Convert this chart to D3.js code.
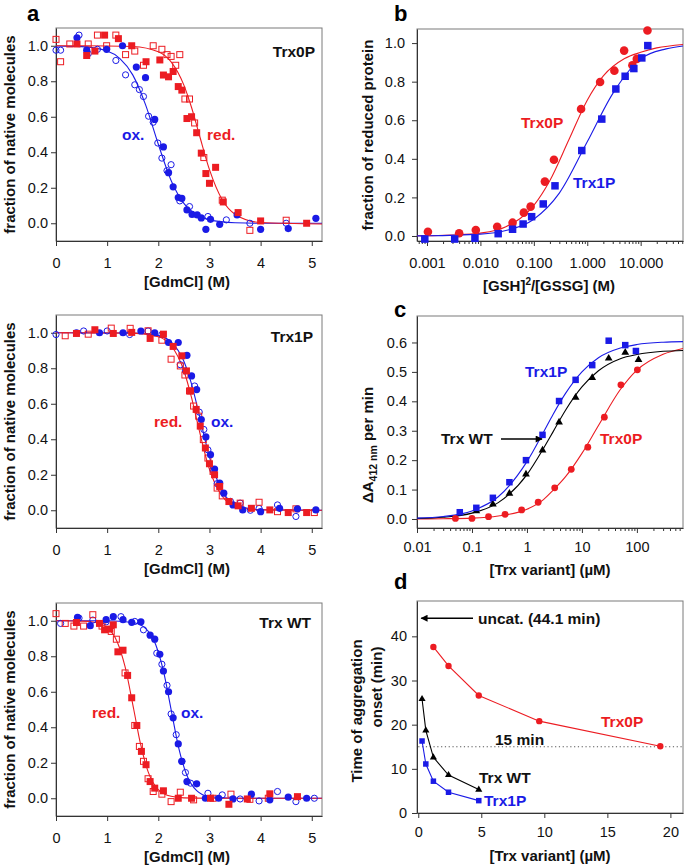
<!DOCTYPE html>
<html>
<head>
<meta charset="utf-8">
<script src="https://cdn.jsdelivr.net/npm/d3@7"></script>
<style>
  body { margin: 0; background: #fff; }
  svg text { font-family: "Liberation Sans", Arial, sans-serif; }
</style>
</head>
<body>
<svg id="fig" width="685" height="867"></svg>
<script>
// ---------- panel a : fraction of native molecules vs [GdmCl] ----------
// Trx0P
var a0OxOpen = [[0,0.975],[0.09,0.975],[0.45,1.06],[0.63,0.955],[0.81,0.98],[1.17,0.917],[1.36,0.836],[1.54,0.78],[1.63,0.753],[1.71,0.714],[1.81,0.603],[1.9,0.569],[1.99,0.452],[2.07,0.367],[2.17,0.296],[2.25,0.33],[2.42,0.126],[2.61,0.094],[2.97,0.038],[3.33,0.019],[3.79,0.0],[4.5,0.0]];
var a0OxFilled = [[0.41,1.045],[0.6,0.975],[0.99,0.98],[1.3,1.0],[1.57,0.88],[1.75,0.82],[1.93,0.585],[2.1,0.43],[2.2,0.285],[2.29,0.205],[2.39,0.145],[2.46,0.14],[2.56,0.075],[2.66,0.05],[2.76,0.047],[2.84,0.03],[2.93,-0.034],[3.02,0.022],[3.2,-0.006],[3.54,0.047],[4.0,-0.034],[4.54,-0.03],[5.08,0.028]];
var a0RedOpen = [[0,1.036],[0.09,0.91],[0.27,1.01],[0.63,1.01],[0.81,1.06],[0.99,1.0],[1.17,1.06],[1.36,0.95],[1.54,0.97],[1.71,0.89],[1.9,1.0],[2.07,0.98],[2.17,0.95],[2.25,0.94],[2.34,0.89],[2.42,0.95],[2.52,0.7],[2.61,0.7],[2.71,0.565],[2.89,0.37],[3.25,0.13],[3.79,-0.04],[4.5,0.017]];
var a0RedFilled = [[0.41,1.01],[0.6,0.945],[0.76,0.97],[0.95,1.06],[1.22,1.04],[1.48,1.0],[1.76,0.91],[2.03,0.92],[2.1,0.835],[2.2,0.825],[2.29,0.855],[2.39,0.77],[2.46,0.75],[2.56,0.59],[2.65,0.6],[2.75,0.51],[2.84,0.395],[2.93,0.28],[3.0,0.225],[3.12,0.315],[3.27,0.12],[3.56,0.06],[4.0,0.013],[4.9,0.0]];
var a0OxFit = [[0,0.999],[0.5,0.995],[1,0.97],[1.25,0.928],[1.5,0.836],[1.75,0.668],[2,0.445],[2.25,0.241],[2.5,0.112],[2.75,0.048],[3,0.019],[3.5,0.003],[4,0.0],[5.2,0.0]];
var a0RedFit = [[0,1.0],[1,0.999],[1.5,0.996],[2,0.966],[2.25,0.909],[2.5,0.778],[2.65,0.652],[2.8,0.5],[3,0.302],[3.25,0.132],[3.5,0.051],[4,0.004],[5.2,-0.004]];

// Trx1P
var a1OxOpen = [[0,0.99],[0.54,1.01],[1.0,1.01],[1.44,0.99],[1.8,1.01],[2.07,0.99],[2.43,0.82],[2.53,0.785],[2.71,0.7],[2.8,0.553],[2.89,0.455],[2.97,0.34],[3.07,0.23],[3.15,0.15],[3.41,0.05],[3.6,0.04],[3.8,0.0],[3.97,0.01],[4.33,0.03],[4.69,-0.035]];
var a1OxFilled = [[0.4,1.0],[0.85,1.0],[1.31,1.0],[1.66,1.01],[1.93,1.0],[2.2,0.945],[2.39,0.945],[2.56,0.873],[2.65,0.757],[2.75,0.68],[2.84,0.511],[2.93,0.413],[3.02,0.313],[3.1,0.232],[3.2,0.153],[3.28,0.096],[3.46,0.03],[3.65,0.002],[4.0,-0.008],[4.37,0.011],[4.72,0.008],[5.08,0.002]];
var a1RedOpen = [[0.18,0.983],[0.63,0.992],[1.08,1.026],[1.45,1.025],[1.8,1.011],[2.07,0.958],[2.25,0.851],[2.43,0.813],[2.52,0.762],[2.61,0.672],[2.69,0.587],[2.79,0.53],[2.88,0.398],[2.97,0.294],[3.07,0.219],[3.15,0.125],[3.25,0.081],[3.6,0.04],[3.97,0.045],[4.33,-0.008],[4.69,0.008],[5.05,-0.013]];
var a1RedFilled = [[0.4,0.996],[0.76,1.017],[1.12,0.996],[1.48,1.002],[1.84,0.968],[2.1,0.992],[2.29,0.923],[2.46,0.87],[2.55,0.785],[2.63,0.672],[2.74,0.568],[2.82,0.474],[2.92,0.351],[3.0,0.262],[3.1,0.2],[3.2,0.134],[3.38,0.049],[3.56,0.025],[3.82,0.011],[4.18,0.002],[4.54,-0.013],[4.9,-0.013]];
var a1OxFit = [[0,1],[1.5,0.999],[2,0.984],[2.25,0.948],[2.5,0.839],[2.65,0.711],[2.83,0.5],[2.9,0.413],[3,0.3],[3.25,0.109],[3.5,0.034],[4,0.003],[5.2,0]];
var a1RedFit = [[0,1],[1.5,0.998],[2,0.978],[2.25,0.928],[2.5,0.786],[2.65,0.634],[2.76,0.5],[2.9,0.332],[3,0.231],[3.25,0.079],[3.5,0.024],[4,0.002],[5.2,0]];

// Trx WT
var a2OxOpen = [[0.09,0.985],[0.45,1.015],[0.72,1.004],[0.98,0.994],[1.27,1.023],[1.54,0.996],[1.71,0.949],[1.97,0.817],[2.07,0.755],[2.17,0.636],[2.25,0.475],[2.35,0.358],[2.46,0.208],[2.53,0.145],[2.63,0.085],[2.97,0.028],[3.25,0.019],[3.6,-0.004],[3.97,-0.015],[4.33,0.038],[4.69,-0.019],[5.05,0.0]];
var a2OxFilled = [[0.42,1.019],[0.67,0.972],[0.98,1.006],[1.12,1.023],[1.31,1.006],[1.48,0.991],[1.66,0.994],[1.84,0.919],[1.93,0.896],[2.03,0.811],[2.1,0.717],[2.2,0.6],[2.29,0.453],[2.39,0.306],[2.46,0.208],[2.56,0.094],[2.75,0.081],[2.92,0.0],[3.18,0.0],[3.46,-0.004],[3.82,0.023],[4.18,-0.009],[4.54,0.006],[4.9,0.0]];
var a2RedOpen = [[0,1.04],[0.18,0.985],[0.35,0.97],[0.54,0.97],[0.72,1.034],[0.9,0.97],[1.08,0.94],[1.18,0.896],[1.35,0.706],[1.54,0.41],[1.63,0.292],[1.71,0.208],[1.8,0.11],[1.9,0.038],[2.07,0.023],[2.25,-0.019],[2.43,0.034],[2.69,-0.009],[3.07,0.0],[3.42,0.023],[3.79,-0.006],[4.15,0.0]];
var a2RedFilled = [[0.4,0.99],[0.85,0.985],[0.95,0.949],[1.05,0.953],[1.12,0.977],[1.21,0.825],[1.31,0.834],[1.4,0.692],[1.48,0.566],[1.58,0.41],[1.67,0.264],[1.76,0.189],[1.84,0.094],[1.93,0.057],[2.1,0.042],[2.39,0.0],[2.65,0.0],[3.02,0.0],[3.38,-0.034],[3.74,-0.004],[4.18,0.025],[4.72,0.009]];
var a2OxFit = [[0,1],[1,1],[1.5,0.99],[1.75,0.957],[1.95,0.865],[2.1,0.717],[2.25,0.5],[2.4,0.283],[2.55,0.135],[2.75,0.043],[3,0.009],[3.5,0],[5.2,0]];
var a2RedFit = [[0,1],[0.5,0.998],[0.75,0.992],[1,0.962],[1.2,0.879],[1.35,0.741],[1.52,0.5],[1.65,0.309],[1.8,0.15],[2,0.049],[2.25,0.011],[2.5,0.002],[3,0],[5.2,0]];

var aTicksX = [0, 1, 2, 3, 4, 5];
var aTicksY = [0, 0.2, 0.4, 0.6, 0.8, 1.0];

// ---------- panel b : fraction of reduced protein ----------
var bTrx0P = [[0.00104,0.022],[0.004,0.014],[0.0082,0.031],[0.0206,0.048],[0.04,0.069],[0.065,0.121],[0.087,0.152],[0.161,0.282],[0.238,0.395],[0.766,0.658],[1.74,0.798],[3.22,0.857],[4.9,0.961],[7.0,0.885],[8.47,0.918],[13.4,1.065]];
var bTrx1P = [[0.00091,-0.016],[0.0033,-0.016],[0.0079,-0.012],[0.0215,0.012],[0.04,0.035],[0.063,0.062],[0.091,0.1],[0.15,0.166],[0.249,0.26],[0.79,0.443],[1.87,0.606],[3.43,0.762],[5.12,0.828],[7.45,0.868],[10.5,0.923],[13.6,0.987]];
var bTrx0PFit = [[0.00065,0.001],[0.001,0.001],[0.003,0.005],[0.01,0.015],[0.03,0.048],[0.1,0.159],[0.2,0.288],[0.455,0.5],[1,0.704],[2,0.83],[5,0.92],[10,0.952],[20,0.975],[62,0.993]];
var bTrx1PFit = [[0.00065,0.0006],[0.001,0.001],[0.01,0.0095],[0.03,0.028],[0.1,0.087],[0.3,0.222],[1,0.488],[3,0.738],[10,0.918],[30,0.97],[62,0.985]];
var bTicksX = [0.001, 0.01, 0.1, 1, 10];
var bTickLabels = ['0.001', '0.010', '0.100', '1.000', '10.000'];
var bTicksY = [0, 0.2, 0.4, 0.6, 0.8, 1.0];

// ---------- panel c : DTNB reduction rate ----------
var cTrx1P = [[0.06,0.023],[0.12,0.038],[0.24,0.072],[0.48,0.125],[0.96,0.2],[1.92,0.286],[3.84,0.401],[7.68,0.473],[15.4,0.523],[30.7,0.606],[61.4,0.591],[96,0.571]];
var cTrxWT = [[0.12,0.027],[0.24,0.05],[0.48,0.087],[0.96,0.152],[1.92,0.234],[3.84,0.329],[7.68,0.413],[15.4,0.48],[30.7,0.546],[61.4,0.566],[107,0.541]];
var cTrx0P = [[0.05,0.002],[0.1,0.002],[0.2,0.008],[0.4,0.016],[0.8,0.031],[1.6,0.057],[3.2,0.106],[6.4,0.169],[12.8,0.244],[25.6,0.346],[51.2,0.456],[102,0.507]];
var cTrx1PFit = [[0.01,0.003],[0.03,0.0085],[0.1,0.0275],[0.3,0.0756],[1,0.195],[2,0.295],[3,0.356],[5,0.426],[10,0.5],[20,0.548],[50,0.581],[100,0.593],[300,0.601],[700,0.603]];
var cTrxWTFit = [[0.01,0.002],[0.03,0.006],[0.1,0.02],[0.3,0.0556],[1,0.151],[2,0.24],[3,0.297],[5,0.369],[10,0.449],[20,0.504],[50,0.545],[100,0.559],[300,0.57],[700,0.573]];
var cTrx0PFit = [[0.01,0.0003],[0.03,0.001],[0.1,0.003],[0.3,0.01],[1,0.033],[2,0.066],[3,0.098],[5,0.143],[10,0.223],[20,0.318],[50,0.44],[100,0.506],[300,0.56],[700,0.58]];
var cTicksX = [0.01, 0.1, 1, 10, 100];
var cTickLabels = ['0.01', '0.1', '1', '10', '100'];
var cTicksY = [0, 0.1, 0.2, 0.3, 0.4, 0.5, 0.6];

// ---------- panel d : aggregation onset ----------
var dTrx0P = [[1.2,37.6],[2.4,33.3],[4.8,26.6],[9.6,20.8],[19.2,15.1]];
var dTrxWT = [[0.3,25.8],[0.6,18.7],[1.2,12.6],[2.4,8.6],[4.8,5.3]];
var dTrx1P = [[0.3,16.3],[0.6,11.1],[1.2,7.2],[2.4,4.7],[4.8,2.8]];
var dThreshold = 15;
var dUncat = 44.1;
var dTicksX = [0, 5, 10, 15, 20];
var dTicksY = [0, 10, 20, 30, 40];

// ---------- drawing ----------
var blue = '#1a1ae6', red = '#ec1c22', dark = '#111';
var tickFont = 14.5, titleFont = 15, labelFont = 15.5;
var svg = d3.select('#fig');
var defs = svg.append('defs');
var clipId = 0;

// frame + axes for one panel, returns a clipped group for the curves
function panel(box, xs, ys, opt) {
  var g = svg.append('g');
  var id = 'clip' + (clipId++);
  defs.append('clipPath').attr('id', id).append('rect')
    .attr('x', box.l).attr('y', box.t).attr('width', box.r - box.l).attr('height', box.b - box.t);

  g.append('rect')
    .attr('x', box.l).attr('y', box.t)
    .attr('width', box.r - box.l).attr('height', box.b - box.t)
    .attr('fill', 'none').attr('stroke', '#7a7a7a').attr('stroke-width', 1);

  var xAxis = d3.axisBottom(xs).tickValues(opt.xTicks).tickSize(5).tickSizeOuter(0)
    .tickPadding(opt.xPad).tickFormat(function(d, i){ return opt.xLabels ? opt.xLabels[i] : d; });
  var gx = g.append('g').attr('transform', 'translate(0,' + box.b + ')').call(xAxis);
  if (opt.minor) {
    g.append('g').attr('transform', 'translate(0,' + box.b + ')')
      .call(d3.axisBottom(xs).tickValues(opt.minor).tickSize(3).tickSizeOuter(0).tickFormat(''))
      .select('.domain').remove();
  }
  var yAxis = d3.axisLeft(ys).tickValues(opt.yTicks).tickSize(5).tickSizeOuter(0)
    .tickPadding(opt.yPad).tickFormat(opt.yFormat);
  var gy = g.append('g').attr('transform', 'translate(' + box.l + ',0)').call(yAxis);

  [gx, gy].forEach(function(a) {
    a.selectAll('text').attr('font-size', tickFont).attr('fill', '#111');
    a.select('.domain').attr('stroke', '#333');
  });
  g.selectAll('.tick line').attr('stroke', '#333');

  var inner = svg.append('g').attr('clip-path', 'url(#' + id + ')');
  return { g: g, inner: inner };
}

function fit(layer, data, xs, ys, color) {
  layer.append('path').datum(data)
    .attr('fill', 'none').attr('stroke', color).attr('stroke-width', 1.1)
    .attr('d', d3.line().x(function(d){ return xs(d[0]); }).y(function(d){ return ys(d[1]); })
      .curve(d3.curveMonotoneX));
}

function polyline(layer, data, xs, ys, color) {
  layer.append('path').datum(data)
    .attr('fill', 'none').attr('stroke', color).attr('stroke-width', 1.1)
    .attr('d', d3.line().x(function(d){ return xs(d[0]); }).y(function(d){ return ys(d[1]); }));
}

function circles(data, xs, ys, color, r, open) {
  svg.append('g').selectAll('circle').data(data).enter().append('circle')
    .attr('cx', function(d){ return xs(d[0]); })
    .attr('cy', function(d){ return ys(d[1]); })
    .attr('r', open ? r - 0.5 : r)
    .attr('fill', open ? 'none' : color)
    .attr('stroke', color).attr('stroke-width', open ? 1 : 0);
}

function squares(data, xs, ys, color, s, open) {
  var h = open ? s - 1 : s;
  svg.append('g').selectAll('rect').data(data).enter().append('rect')
    .attr('x', function(d){ return xs(d[0]) - h / 2; })
    .attr('y', function(d){ return ys(d[1]) - h / 2; })
    .attr('width', h).attr('height', h)
    .attr('fill', open ? 'none' : color)
    .attr('stroke', color).attr('stroke-width', open ? 1 : 0);
}

function triangles(data, xs, ys, color, size) {
  svg.append('g').selectAll('path').data(data).enter().append('path')
    .attr('transform', function(d){ return 'translate(' + xs(d[0]) + ',' + ys(d[1]) + ')'; })
    .attr('d', d3.symbol().type(d3.symbolTriangle).size(size))
    .attr('fill', color);
}

function label(x, y, txt, color, size, anchor) {
  return svg.append('text').attr('x', x).attr('y', y)
    .attr('font-size', size || labelFont).attr('font-weight', 'bold')
    .attr('fill', color || dark).attr('text-anchor', anchor || 'start')
    .text(txt);
}

function xTitle(x, y, txt) {
  return svg.append('text').attr('x', x).attr('y', y).attr('text-anchor', 'middle')
    .attr('font-size', titleFont).attr('font-weight', 'bold').attr('fill', dark)
    .text(txt);
}

function yTitle(x, y, txt) {
  return svg.append('text')
    .attr('transform', 'translate(' + x + ',' + y + ') rotate(-90)')
    .attr('text-anchor', 'middle').attr('dy', '0.35em')
    .attr('font-size', titleFont).attr('font-weight', 'bold').attr('fill', dark)
    .text(txt);
}

function arrow(x1, y1, x2, y2) {
  svg.append('line').attr('x1', x1).attr('y1', y1).attr('x2', x2).attr('y2', y2)
    .attr('stroke', '#000').attr('stroke-width', 1.3).attr('marker-end', 'url(#head)');
}
defs.append('marker').attr('id', 'head').attr('viewBox', '0 0 10 10')
  .attr('refX', 9).attr('refY', 5).attr('markerWidth', 10).attr('markerHeight', 7)
  .attr('markerUnits', 'userSpaceOnUse').attr('orient', 'auto')
  .append('path').attr('d', 'M0,0 L10,5 L0,10 Z').attr('fill', '#000');

// ----- panel a (three stacked plots) -----
var aRows = [
  { t: 28, b: 241, sets: [a0OxFit, a0RedFit, a0OxOpen, a0OxFilled, a0RedOpen, a0RedFilled] },
  { t: 315, b: 528, sets: [a1OxFit, a1RedFit, a1OxOpen, a1OxFilled, a1RedOpen, a1RedFilled] },
  { t: 603, b: 816, sets: [a2OxFit, a2RedFit, a2OxOpen, a2OxFilled, a2RedOpen, a2RedFilled] }
];
aRows.forEach(function(row) {
  var box = { l: 56, r: 322, t: row.t, b: row.b };
  var xs = d3.scaleLinear().domain([0, 5.2]).range([box.l, box.r]);
  var ys = d3.scaleLinear().domain([-0.1, 1.1]).range([box.b, box.t]);
  var p = panel(box, xs, ys, { xTicks: aTicksX, yTicks: aTicksY, xPad: 12, yPad: 3, yFormat: d3.format('.1f') });
  fit(p.inner, row.sets[0], xs, ys, blue);
  fit(p.inner, row.sets[1], xs, ys, red);
  circles(row.sets[2], xs, ys, blue, 3.6, true);
  squares(row.sets[4], xs, ys, red, 7, true);
  circles(row.sets[3], xs, ys, blue, 3.6, false);
  squares(row.sets[5], xs, ys, red, 7, false);
  xTitle((box.l + box.r) / 2 - 2, box.b + 46, '[GdmCl] (M)');
  yTitle(10, (box.t + box.b) / 2, 'fraction of native molecules');
});
label(315, 57, 'Trx0P', dark, labelFont, 'end');
label(122, 140, 'ox.', blue);
label(207, 140, 'red.', red);
label(313, 342, 'Trx1P', dark, labelFont, 'end');
label(154, 427, 'red.', red);
label(211, 427, 'ox.', blue);
label(311, 628, 'Trx WT', dark, labelFont, 'end');
label(92, 718, 'red.', red);
label(181, 718, 'ox.', blue);

// ----- panel b -----
(function() {
  var box = { l: 417, r: 683, t: 29, b: 241 };
  var xs = d3.scaleLog().domain([0.00065, 62]).range([box.l, box.r]);
  var ys = d3.scaleLinear().domain([-0.026, 1.073]).range([box.b, box.t]);
  var minor = [];
  [0.0001, 0.001, 0.01, 0.1, 1, 10].forEach(function(dec) {
    for (var k = 2; k <= 9; k++) {
      var v = dec * k;
      if (v > 0.00065 && v < 62) minor.push(v);
    }
  });
  var p = panel(box, xs, ys, { xTicks: bTicksX, xLabels: bTickLabels, minor: minor, yTicks: bTicksY, xPad: 12, yPad: 7, yFormat: d3.format('.1f') });
  fit(p.inner, bTrx0PFit, xs, ys, red);
  fit(p.inner, bTrx1PFit, xs, ys, blue);
  circles(bTrx0P, xs, ys, red, 4.3, false);
  squares(bTrx1P, xs, ys, blue, 7.5, false);
  var t = xTitle(549, 291, '');
  t.append('tspan').text('[GSH]');
  t.append('tspan').attr('font-size', 10).attr('dy', -6).text('2');
  t.append('tspan').attr('dy', 6).text('/[GSSG] (M)');
  yTitle(368, 135, 'fraction of reduced protein');
  label(521, 128, 'Trx0P', red);
  label(573, 188, 'Trx1P', blue);
})();

// ----- panel c -----
(function() {
  var box = { l: 417, r: 683, t: 316, b: 528 };
  var xs = d3.scaleLog().domain([0.01, 690]).range([box.l, box.r]);
  var ys = d3.scaleLinear().domain([-0.0306, 0.69]).range([box.b, box.t]);
  var minor = [];
  [0.01, 0.1, 1, 10, 100].forEach(function(dec) {
    for (var k = 2; k <= 9; k++) {
      var v = dec * k;
      if (v < 690) minor.push(v);
    }
  });
  var p = panel(box, xs, ys, { xTicks: cTicksX, xLabels: cTickLabels, minor: minor, yTicks: cTicksY, xPad: 9, yPad: 5, yFormat: d3.format('.1f') });
  fit(p.inner, cTrx0PFit, xs, ys, red);
  fit(p.inner, cTrxWTFit, xs, ys, '#000');
  fit(p.inner, cTrx1PFit, xs, ys, blue);
  circles(cTrx0P, xs, ys, red, 3.4, false);
  triangles(cTrxWT, xs, ys, '#000', 26);
  squares(cTrx1P, xs, ys, blue, 6.5, false);
  xTitle(550, 575, '[Trx variant] (\u00b5M)');
  var yt = yTitle(368, 445, '');
  yt.append('tspan').text('\u0394A');
  yt.append('tspan').attr('font-size', 10.5).attr('dy', 4).text('412 nm');
  yt.append('tspan').attr('dy', -4).text(' per min');
  label(525, 377, 'Trx1P', blue);
  label(441, 444, 'Trx WT', dark);
  arrow(501, 439, 542, 439);
  label(600, 444, 'Trx0P', red);
})();

// ----- panel d -----
(function() {
  var box = { l: 417, r: 683, t: 601, b: 813 };
  var xs = d3.scaleLinear().domain([-0.1, 21]).range([box.l, box.r]);
  var ys = d3.scaleLinear().domain([0, 48]).range([box.b, box.t]);
  var p = panel(box, xs, ys, { xTicks: dTicksX, yTicks: dTicksY, xPad: 9, yPad: 5, yFormat: d3.format('d') });
  p.inner.append('line')
    .attr('x1', xs(0)).attr('x2', box.r).attr('y1', ys(dThreshold)).attr('y2', ys(dThreshold))
    .attr('stroke', '#555').attr('stroke-width', 1.2).attr('stroke-dasharray', '1.2,2.6');
  polyline(p.inner, dTrx0P, xs, ys, red);
  polyline(p.inner, dTrxWT, xs, ys, '#000');
  polyline(p.inner, dTrx1P, xs, ys, blue);
  circles(dTrx0P, xs, ys, red, 3.2, false);
  triangles(dTrxWT, xs, ys, '#000', 22);
  squares(dTrx1P, xs, ys, blue, 5.5, false);
  arrow(473, ys(dUncat), xs(0) + 3, ys(dUncat));
  label(478, ys(dUncat) + 5.5, 'uncat. (44.1 min)', dark);
  label(495, 745, '15 min', dark);
  label(601, 727, 'Trx0P', red);
  label(479, 783, 'Trx WT', dark);
  label(484, 806, 'Trx1P', blue);
  xTitle(550, 861, '[Trx variant] (\u00b5M)');
  yTitle(357, 711, 'Time of aggregation');
  yTitle(377, 687, 'onset (min)');
})();

// panel letters
label(27, 21, 'a', '#000', 22);
label(394, 21, 'b', '#000', 22);
label(394, 317, 'c', '#000', 22);
label(394, 589, 'd', '#000', 22);
</script>
</body>
</html>
